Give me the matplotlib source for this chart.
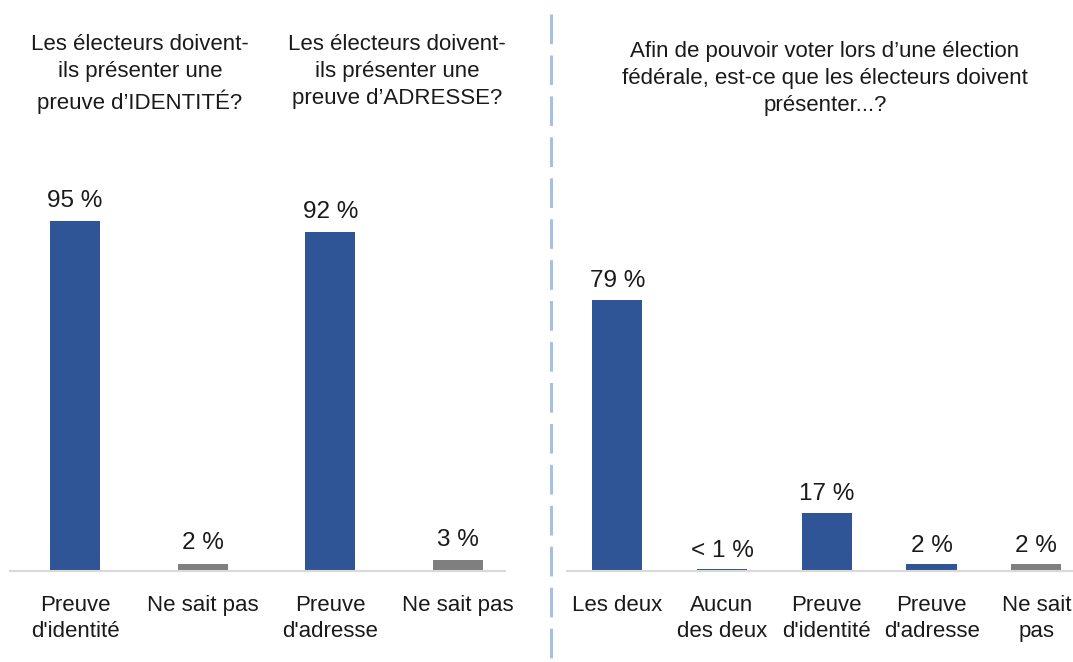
import matplotlib.pyplot as plt
from matplotlib.lines import Line2D

# ============================================================================
# Data
# ============================================================================

left_categories = ["Preuve\nd'identité", "Ne sait pas", "Preuve\nd'adresse", "Ne sait pas"]
left_values = [95, 2, 92, 3]
left_labels = ["95 %", "2 %", "92 %", "3 %"]
left_titles = ["Les électeurs doivent-\nils présenter une\npreuve d’IDENTITÉ?",
               "Les électeurs doivent-\nils présenter une\npreuve d’ADRESSE?"]

right_categories = ["Les deux", "Aucun\ndes deux", "Preuve\nd'identité", "Preuve\nd'adresse", "Ne sait\npas"]
right_values = [79, 0.5, 17, 2, 2]
right_labels = ["79 %", "< 1 %", "17 %", "2 %", "2 %"]
right_title = "Afin de pouvoir voter lors d’une élection\nfédérale, est-ce que les électeurs doivent\nprésenter...?"

BLUE = "#2F5597"
GRAY = "#7F7F7F"
TXT = "#1a1a1a"

plt.rcParams['font.family'] = ['Liberation Sans', 'DejaVu Sans']

W, H = 1073, 662
fig = plt.figure(figsize=(W / 100, H / 100), dpi=100)


def px_axes(x0, x1, y_top, y_base):
    """Add axes from pixel coords (y measured from top of image)."""
    return fig.add_axes([x0 / W, (H - y_base) / H, (x1 - x0) / W, (y_base - y_top) / H])


def style(ax):
    for s in ["top", "right", "left"]:
        ax.spines[s].set_visible(False)
    ax.spines["bottom"].set_color("#d9d9d9")
    ax.spines["bottom"].set_linewidth(1.5)
    ax.set_yticks([])
    ax.tick_params(axis="x", length=0, pad=17, labelsize=16, colors=TXT)
    ax.set_facecolor("none")


# Left panel
ax1 = px_axes(10, 505, 203, 571)
ax1.set_ylim(0, 100)
ax1.set_xlim(-0.51, 3.37)
x1 = range(len(left_values))
colors1 = [BLUE, GRAY, BLUE, GRAY]
ax1.bar(x1, left_values, width=0.39, color=colors1)
for x, v, lab in zip(x1, left_values, left_labels):
    ax1.text(x, v + 2.5, lab, ha="center", va="bottom", fontsize=17.5, color=TXT)
ax1.set_xticks(list(x1))
ax1.set_xticklabels(left_categories, linespacing=1.32)
style(ax1)

# Right panel
ax2 = px_axes(567, 1073, 228, 571)
ax2.set_ylim(0, 100)
ax2.set_xlim(-0.48, 4.35)
x2 = range(len(right_values))
colors2 = [BLUE, BLUE, BLUE, BLUE, GRAY]
ax2.bar(x2, right_values, width=0.48, color=colors2)
for x, v, lab in zip(x2, right_values, right_labels):
    ax2.text(x, v + 2.2, lab, ha="center", va="bottom", fontsize=17.5, color=TXT)
ax2.set_xticks(list(x2))
ax2.set_xticklabels(right_categories, linespacing=1.32)
style(ax2)

# Titles
fig.text(140 / W, 1 - 34 / H, left_titles[0], ha="center", va="top",
         fontsize=16, linespacing=1.38, color=TXT)
fig.text(397 / W, 1 - 34 / H, left_titles[1], ha="center", va="top",
         fontsize=16, linespacing=1.38, color=TXT)
fig.text(825 / W, 1 - 41 / H, right_title, ha="center", va="top",
         fontsize=16, linespacing=1.38, color=TXT)

# Dashed separator
fig.add_artist(Line2D([551 / W, 551 / W], [1 - 14 / H, 0], transform=fig.transFigure,
                      color="#a6bfe6", linewidth=2.2, linestyle=(0, (9.7, 3.7))))

fig.savefig("out.png", dpi=100)
